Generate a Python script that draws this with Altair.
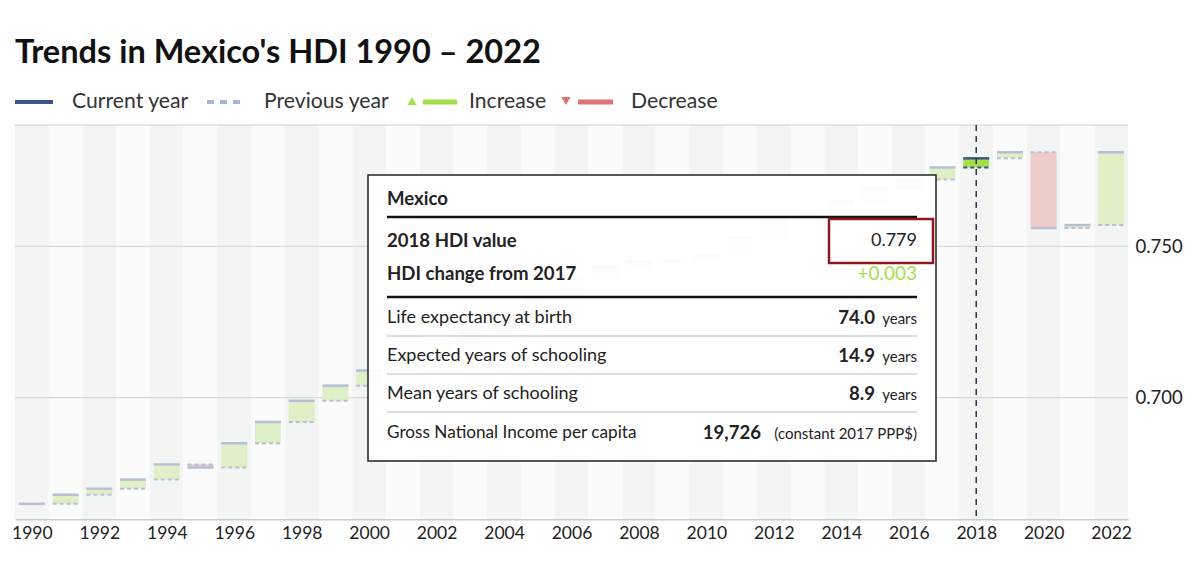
import altair as alt
import pandas as pd

# ---------------- data ----------------
years = list(range(1990, 2023))
hdi = [0.665, 0.668, 0.670, 0.673, 0.678, 0.677, 0.685, 0.692, 0.699, 0.704,
       0.709, 0.713, 0.718, 0.722, 0.728, 0.733, 0.739, 0.743, 0.745, 0.745,
       0.747, 0.753, 0.759, 0.761, 0.765, 0.769, 0.772, 0.776, 0.779, 0.781,
       0.756, 0.757, 0.781]
highlight_year = 2018
y_ticks = [0.70, 0.75]
grid_vals = [0.70, 0.75, 0.79]
x_ticks = list(range(1990, 2023, 2))

title_text = "Trends in Mexico's HDI 1990 \u2013 2022"
legend_labels = ["Current year", "Previous year", "Increase", "Decrease"]

tt_country = "Mexico"
tt_hdi_label = "2018 HDI value"
tt_hdi_value = "0.779"
tt_change_label = "HDI change from 2017"
tt_change_value = "+0.003"
tt_rows = ["Life expectancy at birth", "Expected years of schooling",
           "Mean years of schooling", "Gross National Income per capita"]
tt_nums = ["74.0", "14.9", "8.9", "19,726"]
tt_units = ["years", "years", "years", "(constant 2017 PPP$)"]

# ---------------- table ----------------
prev = [None] + hdi[:-1]
df = pd.DataFrame({"year": years, "cur": hdi, "prev": prev})
df["bx1"] = df["year"] - 0.5
df["bx2"] = df["year"] + 0.5
df["x1"] = df["year"] - 0.385
df["x2"] = df["year"] + 0.385
df["band"] = ["a" if i % 2 == 0 else "b" for i in range(len(df))]
df["dir"] = ["none" if p is None else ("up" if c >= p else "down") for c, p in zip(hdi, prev)]
bars = df[df["prev"].notna()]
one = pd.DataFrame({"k": [0]})

W, H = 1113, 394
FONT = "Lato"
NAVY = "#3b5585"
LIGHT = "#b7bfd8"

xs = alt.Scale(domain=[1989.5, 2022.5], nice=False, zero=False)
ys = alt.Scale(domain=[0.66, 0.79], nice=False, zero=False)
XAX = alt.Axis(values=x_ticks, format="d", title=None, grid=False, ticks=False,
               domain=True, domainColor="#cccccc", domainWidth=2,
               labelFontSize=17.5, labelColor="#222222", labelPadding=5,
               labelFont=FONT, labelFlush=False)
YAX = alt.Axis(values=y_ticks, format=".3f", title=None, grid=False, ticks=False,
               domain=False, orient="right", labelFontSize=18.5, labelColor="#222222",
               labelPadding=7, labelFont=FONT)

bands = alt.Chart(df).mark_rect().encode(
    x=alt.X("bx1:Q", scale=xs, axis=XAX), x2="bx2",
    y=alt.value(0), y2=alt.value(H),
    fill=alt.Fill("band:N", scale=alt.Scale(domain=["a", "b"], range=["#f3f5f4", "#fbfbfb"]), legend=None),
)

grid = alt.Chart(pd.DataFrame({"g": grid_vals})).mark_rule(color="#d0d0d0", strokeWidth=1.2).encode(
    y=alt.Y("g:Q", scale=ys, axis=YAX)
)

fills = alt.Chart(bars).mark_rect().encode(
    x=alt.X("x1:Q", scale=xs, axis=XAX), x2="x2",
    y=alt.Y("prev:Q", scale=ys, axis=YAX), y2="cur",
    color=alt.condition(f"datum.year == {highlight_year}", alt.value("#a5e04c"),
                        alt.Color("dir:N", scale=alt.Scale(domain=["up", "down"], range=["#e0f0c6", "#f0cbcb"]), legend=None)),
)

cur_line = alt.Chart(df).mark_rule(strokeWidth=2.5).encode(
    x=alt.X("x1:Q", scale=xs, axis=XAX), x2="x2",
    y=alt.Y("cur:Q", scale=ys, axis=YAX),
    color=alt.condition(f"datum.year == {highlight_year}", alt.value(NAVY), alt.value(LIGHT)),
)

prev_line = alt.Chart(bars).mark_rule(strokeWidth=2, strokeDash=[4, 3]).encode(
    x=alt.X("x1:Q", scale=xs, axis=XAX), x2="x2",
    y=alt.Y("prev:Q", scale=ys, axis=YAX),
    color=alt.condition(f"datum.year == {highlight_year}", alt.value(NAVY), alt.value(LIGHT)),
)

vline = alt.Chart(pd.DataFrame({"yr": [highlight_year]})).mark_rule(
    color="#2a3550", strokeWidth=1.5, strokeDash=[6, 5]).encode(
    x=alt.X("yr:Q", scale=xs, axis=XAX)
)


def txt(x, y, s, size=18, weight="normal", align="left", color="#222222", font=FONT):
    return alt.Chart(one).mark_text(align=align, baseline="middle", fontSize=size,
                                    fontWeight=weight, color=color, font=font).encode(
        x=alt.value(x), y=alt.value(y), text=alt.value(s))


def hline(x1, x2, y, color, w):
    return alt.Chart(one).mark_rule(color=color, strokeWidth=w).encode(
        x=alt.value(x1), x2=alt.value(x2), y=alt.value(y))


layers = [bands, grid, fills, cur_line, prev_line, vline]

# title
layers.append(alt.Chart(one).mark_text(align="left", baseline="alphabetic", fontSize=32.5,
                                       fontWeight="bold", color="#111111", font=FONT).encode(
    x=alt.value(0), y=alt.value(-62), text=alt.value(title_text)))

# legend
LY = -23
LS = 21.2
layers.append(hline(0, 38, LY, NAVY, 4))
layers.append(txt(57, LY, legend_labels[0], size=LS, color="#333333"))
layers.append(alt.Chart(one).mark_rule(color="#aab4d2", strokeWidth=4, strokeDash=[7, 6]).encode(
    x=alt.value(192), x2=alt.value(228), y=alt.value(LY)))
layers.append(txt(249, LY, legend_labels[1], size=LS, color="#333333"))
layers.append(alt.Chart(one).mark_point(shape="triangle-up", filled=True, size=90, color="#a5e04c", opacity=1).encode(
    x=alt.value(397), y=alt.value(LY - 1)))
layers.append(hline(408, 442, LY, "#a5e04c", 5))
layers.append(txt(454, LY, legend_labels[2], size=LS, color="#333333"))
layers.append(alt.Chart(one).mark_point(shape="triangle-down", filled=True, size=90, color="#e07474", opacity=1).encode(
    x=alt.value(551), y=alt.value(LY - 1)))
layers.append(hline(563, 598, LY, "#e07474", 5))
layers.append(txt(616, LY, legend_labels[3], size=LS, color="#333333"))

# tooltip
layers.append(alt.Chart(one).mark_rect(fill="white", fillOpacity=0.93, stroke="#222222", strokeWidth=1.5).encode(
    x=alt.value(353), x2=alt.value(921), y=alt.value(50), y2=alt.value(336)))
TL, TR = 372, 902
BS = 18.6
layers.append(txt(TL, 74, tt_country, size=BS, weight="bold"))
layers.append(hline(TL, TR, 92, "#111111", 2.5))
layers.append(txt(TL, 116, tt_hdi_label, size=BS, weight="bold"))
layers.append(txt(TR, 116, tt_hdi_value, align="right"))
layers.append(alt.Chart(one).mark_rect(fill=None, stroke="#8b1a1f", strokeWidth=2.5, filled=False).encode(
    x=alt.value(814), x2=alt.value(918), y=alt.value(94), y2=alt.value(138)))
layers.append(txt(TL, 149, tt_change_label, size=BS, weight="bold"))
layers.append(txt(TR, 149, tt_change_value, align="right", size=19, color="#a5e04c"))
layers.append(hline(TL, TR, 172, "#111111", 2.5))
row_y = [193, 231, 269, 308]
for i, (lab, num, unit) in enumerate(zip(tt_rows, tt_nums, tt_units)):
    yy = row_y[i]
    layers.append(txt(TL, yy, lab, size=18 if i < 3 else 17.2))
    layers.append(txt(TR, yy + 1, unit, size=15, align="right"))
    numx = 860 if i < 3 else 746
    layers.append(txt(numx, yy, num, size=BS, weight="bold", align="right"))
    if i < 3:
        layers.append(hline(TL, TR, yy + 18, "#b9bec8", 1.2))

chart = alt.layer(*layers).resolve_scale(color="independent", fill="independent").properties(
    width=W, height=H,
    autosize=alt.AutoSizeParams(type="none"),
    padding={"left": 7, "top": 117, "right": 60, "bottom": 30},
    background="white",
).configure_view(stroke=None)

chart.save("out.html", embed_options={"renderer": "svg", "actions": False})
